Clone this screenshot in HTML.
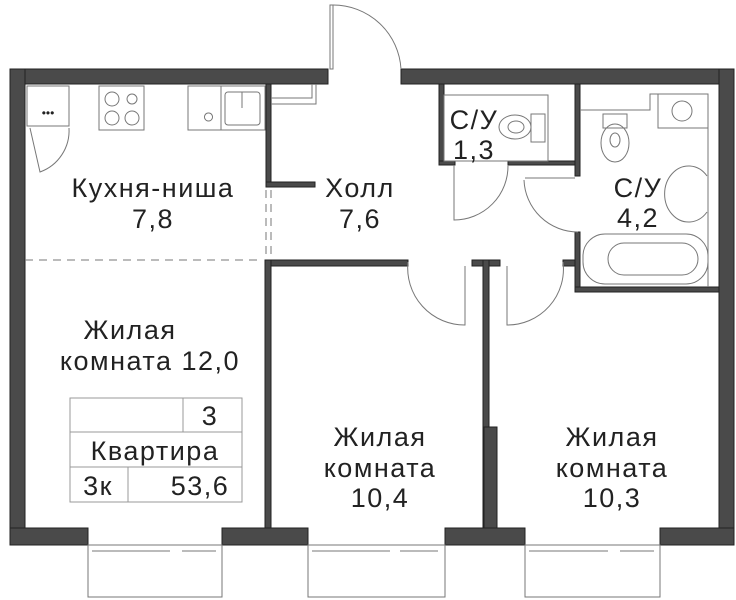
<!DOCTYPE html>
<html><head><meta charset="utf-8"><style>
html,body{margin:0;padding:0;background:#fff;width:736px;height:600px;overflow:hidden}
svg text{font-family:"Liberation Sans",sans-serif;fill:#222}
</style></head><body>
<svg width="736" height="600" viewBox="0 0 736 600" xmlns="http://www.w3.org/2000/svg">
<g fill="#4a4a4a" stroke="#222" stroke-width="1">
<rect x="10" y="69" width="318" height="15"/>
<rect x="401" y="69" width="333" height="15"/>
<rect x="10" y="69" width="15" height="476"/>
<rect x="719" y="69" width="15" height="476"/>
<rect x="10" y="528" width="78" height="17"/>
<rect x="222" y="528" width="86" height="17"/>
<rect x="445" y="528" width="80" height="17"/>
<rect x="660" y="528" width="74" height="17"/>
<rect x="266" y="84" width="5" height="102"/>
<rect x="266" y="182" width="49" height="5"/>
<rect x="265" y="260" width="143" height="6"/>
<rect x="265" y="260" width="6" height="268"/>
<rect x="472" y="260" width="28" height="6"/>
<rect x="483" y="260" width="6" height="268"/>
<rect x="484" y="427" width="13" height="101"/>
<rect x="563" y="260" width="14" height="6"/>
<rect x="575" y="84" width="5" height="92"/>
<rect x="575" y="232" width="5" height="60"/>
<rect x="575" y="287" width="144" height="5"/>
<rect x="439" y="84" width="5" height="81"/>
<rect x="439" y="161" width="16" height="4"/>
<rect x="508" y="161" width="67" height="4"/>
</g>
<g fill="none" stroke="#777" stroke-width="1">
<rect x="330" y="5" width="3" height="64"/>
<path d="M333 5 A68 68 0 0 1 401 69"/>
<path d="M271 98 H312 V84 M271 104 H316 V84"/>
<line x1="25" y1="260" x2="262" y2="260" stroke-dasharray="8,6"/>
<line x1="266" y1="190" x2="266" y2="258" stroke-dasharray="8,6"/>
<line x1="271" y1="190" x2="271" y2="258" stroke-dasharray="8,6"/>
<rect x="27" y="86" width="42" height="40"/>
<path d="M30 128 L40 172 A44 44 0 0 0 69 128"/>
<rect x="99" y="86" width="45" height="44"/>
<circle cx="112" cy="99" r="7"/><circle cx="132" cy="99" r="5"/>
<circle cx="112" cy="118" r="7"/><circle cx="132" cy="118" r="7"/>
<rect x="188" y="86" width="33" height="44"/>
<rect x="221" y="86" width="44" height="44"/>
<rect x="225" y="92" width="35" height="33" rx="3"/>
<path d="M242 92 V108 M208 113 a4 4 0 1 0 1 0z"/>
<path d="M408 262 A57 57 0 0 0 465 325 V266"/>
<path d="M563 262 A56 56 0 0 1 507 325 V266"/>
<path d="M454 165 V220 A54 54 0 0 0 508 165"/>
<path d="M524 180 A54 54 0 0 0 578 232"/>
<path d="M525 178 H575"/>
<rect x="444" y="95" width="104" height="66"/>
<ellipse cx="515" cy="127" rx="16" ry="12"/>
<ellipse cx="516" cy="127" rx="8" ry="6"/>
<rect x="531" y="114" width="14" height="28"/>
<path d="M580 110 H650 V94 H708 V287"/>
<rect x="658" y="94" width="50" height="34"/>
<circle cx="682" cy="111" r="10"/>
<ellipse cx="615" cy="143" rx="14" ry="19"/>
<ellipse cx="615" cy="140" rx="5" ry="7"/>
<rect x="603" y="114" width="24" height="14"/>
<path d="M707 176 A24 28 0 1 0 707 212"/>
<rect x="583" y="234" width="125" height="50" rx="22"/>
<rect x="608" y="243" width="90" height="32" rx="16"/>
<rect x="88" y="545" width="134" height="52"/>
<rect x="308" y="545" width="137" height="52"/>
<rect x="525" y="545" width="135" height="52"/>
<path d="M92 551 H170 M182 551 H216 M312 551 H390 M400 551 H438 M529 551 H608 M620 551 H654"/>
<g stroke="#999">
<rect x="70" y="398" width="172" height="104"/>
<line x1="70" y1="432" x2="242" y2="432"/>
<line x1="70" y1="467" x2="242" y2="467"/>
<line x1="183" y1="398" x2="183" y2="432"/>
<line x1="128" y1="467" x2="128" y2="502"/>
</g>
</g>
<g font-size="27" text-anchor="middle" letter-spacing="1.5">
<text x="153" y="197">Кухня-ниша</text>
<text x="153" y="228">7,8</text>
<text x="360" y="197">Холл</text>
<text x="360" y="228">7,6</text>
<text x="474" y="129">С/У</text>
<text x="474" y="159">1,3</text>
<text x="638" y="197">С/У</text>
<text x="638" y="227">4,2</text>
<text x="130" y="339">Жилая</text>
<text x="150" y="370">комната 12,0</text>
<text x="380" y="446">Жилая</text>
<text x="380" y="477">комната</text>
<text x="380" y="507">10,4</text>
<text x="612" y="446">Жилая</text>
<text x="612" y="477">комната</text>
<text x="612" y="507">10,3</text>
<text x="210" y="425">3</text>
<text x="155" y="460">Квартира</text>
<text x="98" y="495">3к</text>
<text x="200" y="495">53,6</text>
</g>
<text x="48" y="117" font-size="12" text-anchor="middle">•••</text>
</svg>
</body></html>
